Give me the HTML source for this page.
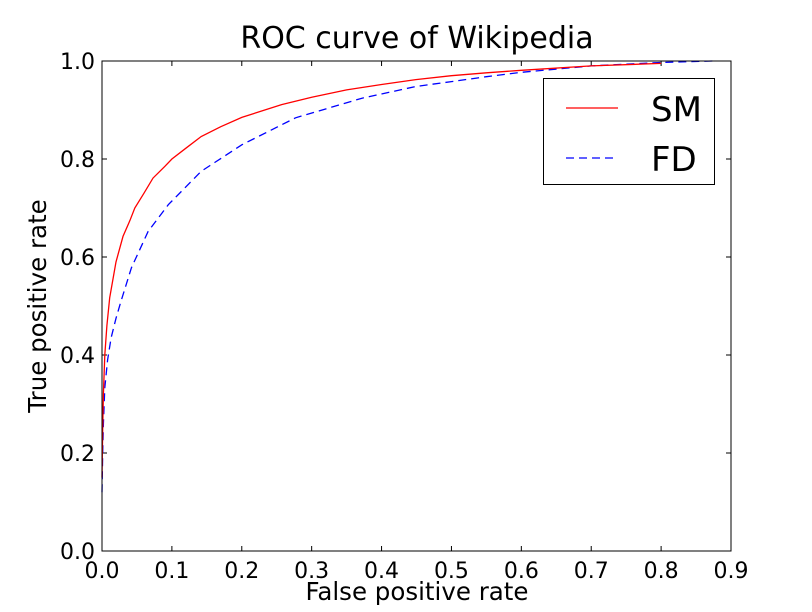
<!DOCTYPE html>
<html><head><meta charset="utf-8"><style>
body{margin:0;background:#fff;}
svg{display:block;font-family:"DejaVu Sans","Liberation Sans",sans-serif;}
</style></head><body>
<svg id="chart" width="812" height="612"></svg>
<script>
const xTicks=[0,0.1,0.2,0.3,0.4,0.5,0.6,0.7,0.8,0.9];
const yTicks=[0,0.2,0.4,0.6,0.8,1.0];
const smFpr=[0,0.001,0.002,0.004,0.007,0.011,0.02,0.03,0.04,0.047,0.06,0.073,0.09,0.1,0.12,0.142,0.17,0.2,0.257,0.3,0.35,0.4,0.449,0.5,0.55,0.6,0.7,0.8];
const smTpr=[0.15,0.25,0.32,0.4,0.46,0.517,0.59,0.642,0.675,0.70,0.73,0.761,0.785,0.80,0.822,0.846,0.866,0.885,0.911,0.926,0.941,0.952,0.962,0.970,0.976,0.981,0.99,0.995];
const fdFpr=[0,0.001,0.002,0.004,0.008,0.013,0.02,0.027,0.042,0.066,0.095,0.142,0.2,0.277,0.372,0.449,0.5,0.55,0.6,0.7,0.8,0.875];
const fdTpr=[0.12,0.2,0.26,0.333,0.39,0.435,0.475,0.509,0.578,0.652,0.707,0.775,0.829,0.884,0.924,0.948,0.958,0.968,0.977,0.99,0.997,1.0];
const L=102,R=731,T=61,B=551,XMAX=0.9;
const sx=v=>L+v/XMAX*(R-L), sy=v=>B-v*(B-T);
const svg=document.getElementById('chart');
const NS='http://www.w3.org/2000/svg';
function mk(tag,attrs,parent){const e=document.createElementNS(NS,tag);for(const k in attrs)e.setAttribute(k,attrs[k]);(parent||svg).appendChild(e);return e;}
const title=mk('text',{x:417,y:48,'text-anchor':'middle','font-size':30});
title.textContent='ROC curve of Wikipedia';


xTicks.forEach(t=>{
  const x=sx(t);
  const a=mk('line',{x1:x,x2:x,y1:B,y2:B-5,stroke:'#000'});
  
  
  mk('line',{x1:x,x2:x,y1:T,y2:T+5,stroke:'#000'});
  const l=mk('text',{x:x,y:578,'text-anchor':'middle','font-size':22});
  l.textContent=t.toFixed(1);
  
  
});
yTicks.forEach(t=>{
  const y=sy(t);
  const a=mk('line',{x1:L,x2:L+5,y1:y,y2:y,stroke:'#000'});
  
  
  mk('line',{x1:R,x2:R-5,y1:y,y2:y,stroke:'#000'});
  const l=mk('text',{x:95,y:y+8,'text-anchor':'end','font-size':22});
  l.textContent=t.toFixed(1);
  
  
});
const xt=mk('text',{x:417,y:600,'text-anchor':'middle','font-size':24.5});
xt.textContent='False positive rate';


const yt=mk('text',{x:46,y:306,'text-anchor':'middle','font-size':24.5,transform:'rotate(-90 46 306)'});
yt.textContent='True positive rate';


function line(xs,ys,color,dash,name){
  const d=xs.map((v,i)=>(i?'L':'M')+sx(v).toFixed(1)+','+sy(ys[i]).toFixed(1)).join('');
  const p=mk('path',{d:d,fill:'none',stroke:color,'stroke-width':1.3});
  if(dash)p.setAttribute('stroke-dasharray',dash);
  
  
}
line(fdFpr,fdTpr,'#0000ff','8,5','fd-line');
line(smFpr,smTpr,'#ff0000',null,'sm-line');
const frame=mk('rect',{x:L,y:T,width:R-L,height:B-T,fill:'none',stroke:'#000','stroke-width':1});


const lg=mk('g',{});


mk('rect',{x:543.5,y:78.5,width:171,height:106,fill:'#fff',stroke:'#000'},lg);
mk('line',{x1:566,x2:618,y1:108,y2:108,stroke:'#ff0000','stroke-width':1.3},lg);
mk('line',{x1:566,x2:618,y1:158,y2:158,stroke:'#0000ff','stroke-width':1.3,'stroke-dasharray':'8,5'},lg);
const t1=mk('text',{x:651,y:121,'font-size':34},lg);t1.textContent='SM';


const t2=mk('text',{x:651,y:171,'font-size':34},lg);t2.textContent='FD';


</script>
</body></html>
